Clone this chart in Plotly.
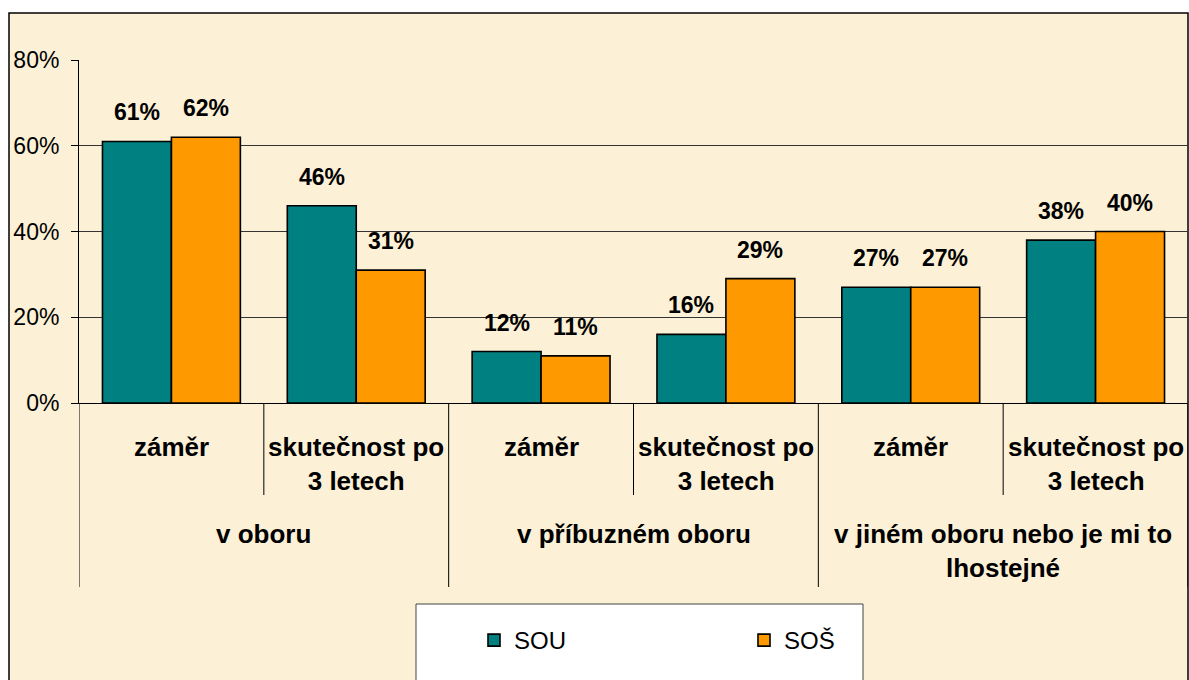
import plotly.graph_objects as go

categories_inner = ["záměr", "skutečnost po<br>3 letech"] * 3
categories_outer = ["v oboru", "v příbuzném oboru", "v jiném oboru nebo je mi to<br>lhostejné"]
sou = [61, 46, 12, 16, 27, 38]
sos = [62, 31, 11, 29, 27, 40]
series_names = ["SOU", "SOŠ"]
y_ticks = [0, 20, 40, 60, 80]
y_ticklabels = ["0%", "20%", "40%", "60%", "80%"]

W, H = 1189, 680
L, R, T, B = 79, 1, 60, 277
pw, ph = W - L - R, H - T - B

def px_x(px):
    return (px - L) / pw

def px_y(py):
    return (H - B - py) / ph

BG = "#FCF0D6"
TEAL = "#008080"
ORANGE = "#FF9900"
FONT = "Liberation Sans, Arial, sans-serif"

centers = [i + 0.5 for i in range(len(sou))]
bargap = 0.254
half = (1 - bargap) / 4

fig = go.Figure()
fig.add_trace(go.Bar(x=centers, y=sou, name=series_names[0], marker=dict(color=TEAL, line=dict(color="black", width=1.6))))
fig.add_trace(go.Bar(x=centers, y=sos, name=series_names[1], marker=dict(color=ORANGE, line=dict(color="black", width=1.6))))

shapes = []
shapes.append(dict(type="rect", xref="paper", yref="paper", x0=px_x(9), x1=px_x(1188), y0=px_y(700), y1=px_y(13),
                   fillcolor=BG, line=dict(color="black", width=1.5), layer="below"))
shapes.append(dict(type="rect", xref="paper", yref="paper", x0=px_x(416), x1=px_x(863), y0=px_y(700), y1=px_y(604),
                   fillcolor="white", line=dict(color="#444", width=1), layer="below"))
for i in range(len(sou) + 1):
    yb = px_y(587) if i % 2 == 0 else px_y(495)
    shapes.append(dict(type="line", xref="x", yref="paper", x0=i, x1=i, y0=0, y1=yb, line=dict(color="black", width=1)))

annotations = []
for c, v1, v2 in zip(centers, sou, sos):
    for xx, v in ((c - half, v1), (c + half, v2)):
        annotations.append(dict(x=xx, y=v, xref="x", yref="y", text=f"<b>{v}%</b>", showarrow=False,
                                yanchor="middle", yshift=29, font=dict(family=FONT, size=23, color="black")))
for c, lab in zip(centers, categories_inner):
    annotations.append(dict(x=c, y=px_y(430), xref="x", yref="paper", text=f"<b>{lab}</b>", showarrow=False,
                            yanchor="top", font=dict(family=FONT, size=26, color="black")))
for j, lab in enumerate(categories_outer):
    annotations.append(dict(x=2 * j + 1, y=px_y(517), xref="x", yref="paper", text=f"<b>{lab}</b>", showarrow=False,
                            yanchor="top", font=dict(family=FONT, size=26, color="black")))

fig.update_layout(
    width=W, height=H,
    margin=dict(l=L, r=R, t=T, b=B, pad=0),
    paper_bgcolor="white",
    plot_bgcolor="rgba(0,0,0,0)",
    barmode="group", bargap=bargap, bargroupgap=0,
    shapes=shapes, annotations=annotations,
    font=dict(family=FONT, size=23, color="black"),
    xaxis=dict(range=[0, len(sou)], showticklabels=False, showgrid=False, zeroline=False,
               showline=True, linecolor="black", linewidth=1, ticks=""),
    yaxis=dict(range=[0, 80], tickvals=y_ticks, ticktext=y_ticklabels, showgrid=True, gridcolor="#333",
               gridwidth=1, zeroline=False, showline=True, linecolor="black", linewidth=1,
               ticks="outside", ticklen=7, tickcolor="black", ticklabelstandoff=7,
               tickfont=dict(family=FONT, size=23, color="black")),
    legend=dict(orientation="h", x=px_x(474), y=px_y(618), xanchor="left", yanchor="top",
                bgcolor="rgba(0,0,0,0)", entrywidth=225, entrywidthmode="pixels",
                font=dict(family=FONT, size=24, color="black"), traceorder="normal"),
    showlegend=True,
)

fig.write_html("out.html", config={"displayModeBar": False},
               post_script="document.body.style.margin='0';document.body.style.overflow='hidden';")
